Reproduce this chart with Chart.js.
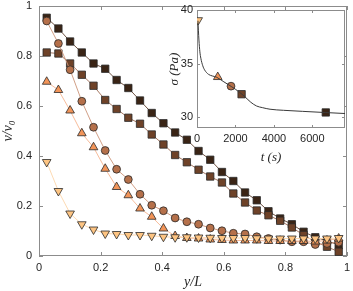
<!DOCTYPE html>
<html>
<head>
<meta charset="utf-8">
<script src="https://cdn.jsdelivr.net/npm/chart.js@4.4.1/dist/chart.umd.min.js"></script>
<style>
  body { margin: 0; background: #fff; }
  #wrap { position: relative; width: 353px; height: 291px; }
  #inset { position: absolute; left: 160px; top: 0; }
</style>
</head>
<body>
<div id="wrap">
  <canvas id="main" width="353" height="291"></canvas>
  <canvas id="inset" width="193" height="165"></canvas>
</div>
<script>
// positions along the channel (y/L)
const yL = [0.025, 0.063, 0.101, 0.139, 0.177, 0.215, 0.252, 0.290, 0.328, 0.366, 0.404, 0.442, 0.480,
            0.518, 0.556, 0.594, 0.631, 0.669, 0.707, 0.745, 0.783, 0.821, 0.859, 0.897, 0.935, 0.973];

// velocity profiles v/v0, one per snapshot
const vDarkSq = [0.953, 0.910, 0.858, 0.814, 0.770, 0.749, 0.704, 0.672, 0.622, 0.572, 0.531, 0.494, 0.465,
                 0.420, 0.385, 0.336, 0.300, 0.254, 0.223, 0.179, 0.150, 0.127, 0.097, 0.075, 0.061, 0.044];
const vMidSq = [0.814, 0.810, 0.770, 0.725, 0.681, 0.624, 0.588, 0.553, 0.529, 0.486, 0.446, 0.404, 0.375,
                0.345, 0.318, 0.294, 0.250, 0.214, 0.182, 0.163, 0.141, 0.114, 0.084, 0.057, 0.037, 0.017];
const vCircle = [0.940, 0.850, 0.745, 0.619, 0.515, 0.422, 0.347, 0.306, 0.247, 0.203, 0.181, 0.152, 0.137,
                 0.127, 0.112, 0.101, 0.091, 0.088, 0.077, 0.070, 0.064, 0.057, 0.057, 0.046, 0.050, 0.055];
const vTriUp = [0.697, 0.664, 0.582, 0.491, 0.435, 0.349, 0.276, 0.243, 0.190, 0.157, 0.110, 0.080, 0.072,
                0.070, 0.066, 0.064, 0.062, 0.062, 0.062, 0.060, 0.060, 0.060, 0.060, 0.058, 0.062, 0.070];
const vTriDown = [0.376, 0.260, 0.170, 0.127, 0.106, 0.090, 0.088, 0.084, 0.084, 0.081, 0.077, 0.075, 0.075,
                  0.074, 0.073, 0.072, 0.072, 0.072, 0.071, 0.070, 0.070, 0.070, 0.070, 0.070, 0.070, 0.072];

// inset: stress relaxation curve sigma(t)
const tCurve = [50, 100, 150, 200, 300, 400, 600, 800, 1000, 1400, 1800, 2200, 2500, 2800, 3100,
                3400, 3800, 4500, 5500, 6700, 7700];
const sigmaCurve = [39.0, 37.2, 36.1, 35.5, 34.8, 34.4, 34.0, 33.85, 33.75, 33.3, 32.85, 32.35, 31.9, 31.4,
                    31.05, 30.9, 30.75, 30.65, 30.55, 30.44, 30.35];
// snapshot markers on the curve (down tri, up tri, circle, mid square, dark square)
const tSnap = [60, 1080, 1770, 2320, 6700];
const sigmaSnap = [39.05, 33.75, 32.9, 32.15, 30.45];

const mainXTicks = [0, 0.2, 0.4, 0.6, 0.8, 1];
const mainXLabels = ['0', '0.2', '0.4', '0.6', '0.8', '1'];
const mainYTicks = [0, 0.2, 0.4, 0.6, 0.8, 1];
const mainYLabels = ['0', '0.2', '0.4', '0.6', '0.8', '1'];
const insetXTicks = [0, 2000, 4000, 6000];
const insetXLabels = ['0', '2000', '4000', '6000'];
const insetYTicks = [30, 35, 40];
const insetYLabels = ['30', '35', '40'];

const series = [
  { v: vTriDown, fill: '#fdc482', line: '#fdd6aa', style: 'triangle', rot: 180, r: 5 },
  { v: vTriUp, fill: '#f29458', line: '#f6b48e', style: 'triangle', rot: 0, r: 5 },
  { v: vCircle, fill: '#b5704a', line: '#cc9478', style: 'circle', rot: 0, r: 3.9 },
  { v: vMidSq, fill: '#6e4228', line: '#9c6a52', style: 'rect', rot: 0, r: 5.2 },
  { v: vDarkSq, fill: '#3a2415', line: '#5e3e2c', style: 'rect', rot: 0, r: 5.2 }
];

const tickFont = { family: "'Liberation Sans', Arial, sans-serif", size: 11 };
const serif = "'Liberation Serif', 'DejaVu Serif', serif";

// box round the axes with inward ticks, MATLAB style
const boxPlugin = {
  id: 'box',
  beforeDatasetsDraw(chart, args, opts) {
    const { ctx, chartArea: a, scales: { x, y } } = chart;
    ctx.save();
    if (opts.fill) {
      ctx.fillStyle = '#fff';
      ctx.fillRect(a.left, a.top, a.right - a.left, a.bottom - a.top);
    }
    ctx.strokeStyle = '#8c8c8c';
    ctx.lineWidth = 1;
    ctx.strokeRect(a.left + 0.5, a.top + 0.5, a.right - a.left - 1, a.bottom - a.top - 1);
    const tl = opts.tick;
    ctx.beginPath();
    x.ticks.forEach(t => {
      const px = Math.round(x.getPixelForValue(t.value)) + 0.5;
      ctx.moveTo(px, a.bottom); ctx.lineTo(px, a.bottom - tl);
      ctx.moveTo(px, a.top); ctx.lineTo(px, a.top + tl);
    });
    y.ticks.forEach(t => {
      const py = Math.round(y.getPixelForValue(t.value)) + 0.5;
      ctx.moveTo(a.left, py); ctx.lineTo(a.left + tl, py);
      ctx.moveTo(a.right, py); ctx.lineTo(a.right - tl, py);
    });
    ctx.stroke();
    ctx.restore();
  }
};

function axis(min, max, ticks, labels, pad, title, titleSize, titlePad, size, isY) {
  return {
    type: 'linear', min, max,
    grid: { display: false, drawTicks: false },
    border: { display: false },
    afterBuildTicks: s => { s.ticks = ticks.map(v => ({ value: v })); },
    afterFit: s => {
      if (isY) { s.width = size; s.paddingTop = 0; s.paddingBottom = 0; }
      else { s.height = size; s.paddingLeft = 0; s.paddingRight = 0; }
    },
    ticks: { autoSkip: false, maxRotation: 0, color: '#262626', font: tickFont, padding: pad,
             callback: (v, i) => labels[i] },
    title: { display: true, text: title, color: '#262626',
             font: { family: serif, size: titleSize, style: 'italic' },
             padding: { top: titlePad, bottom: 0 } }
  };
}

new Chart(document.getElementById('main'), {
  type: 'scatter',
  data: {
    datasets: series.map(s => ({
      data: yL.map((x, i) => ({ x, y: s.v[i] })),
      showLine: true,
      borderColor: s.line,
      borderWidth: 0.9,
      pointStyle: s.style,
      pointRotation: s.rot,
      pointRadius: s.r,
      pointBackgroundColor: s.fill,
      pointBorderColor: '#2a2a2a',
      pointBorderWidth: 0.8
    }))
  },
  options: {
    responsive: false,
    animation: false,
    layout: { padding: { left: 0, right: 4, top: 4.5, bottom: 0 } },
    plugins: { legend: { display: false }, tooltip: { enabled: false }, box: { fill: false, tick: 4 } },
    scales: {
      x: axis(0, 1, mainXTicks, mainXLabels, 5, 'y/L', 14, 0, 35, false),
      y: axis(0, 1, mainYTicks, mainYLabels, 7, 'v/v₀', 14, 0, 39, true)
    }
  },
  plugins: [boxPlugin]
});

new Chart(document.getElementById('inset'), {
  type: 'scatter',
  data: {
    datasets: [{
      data: tCurve.map((t, i) => ({ x: t, y: sigmaCurve[i] })),
      showLine: true,
      borderColor: '#3a3a3a',
      borderWidth: 1,
      pointRadius: 0,
      cubicInterpolationMode: 'monotone'
    }].concat(series.map((s, i) => ({
      data: [{ x: tSnap[i], y: sigmaSnap[i] }],
      pointStyle: s.style,
      pointRotation: s.rot,
      pointRadius: s.r,
      pointBackgroundColor: s.fill,
      pointBorderColor: '#2a2a2a',
      pointBorderWidth: 0.8
    })))
  },
  options: {
    responsive: false,
    animation: false,
    layout: { padding: { left: 0, right: 8, top: 10, bottom: 0 } },
    plugins: { legend: { display: false }, tooltip: { enabled: false }, box: { fill: true, tick: 3 } },
    scales: {
      x: axis(0, 7700, insetXTicks, insetXLabels, 4, 't (s)', 13, 4, 37, false),
      y: axis(29, 40, insetYTicks, insetYLabels, 4, 'σ (Pa)', 13, 7, 37, true)
    }
  },
  plugins: [boxPlugin]
});
</script>
</body>
</html>
